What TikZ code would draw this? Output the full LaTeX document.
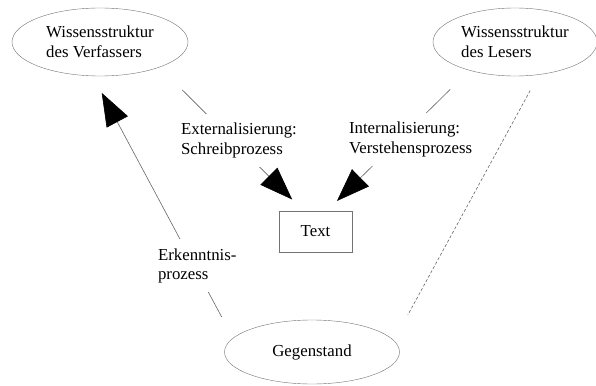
\documentclass[tikz,border=0pt]{standalone}
\usepackage{fontspec}
\setmainfont{Liberation Serif}
\usetikzlibrary{arrows.meta,shapes.geometric,quotes}

\begin{document}
\begin{tikzpicture}[x=1pt,y=-1pt,font=\fontsize{16.8}{19.5}\selectfont,
    wissen/.style={ellipse, draw=black!55, inner sep=0pt, align=left},
    lbl/.style={fill=white, align=left, inner sep=9pt, anchor=center},
    lblext/.style={lbl, pos=0.51, xshift=6pt},
    lblint/.style={lbl, pos=0.49, xshift=11pt},
    lblerk/.style={lbl, pos=0.276, xshift=3pt},
    arr/.style={draw=black!60, line width=0.6pt, -{Triangle[length=33pt,width=24pt,color=black]}},
    dash line/.style={draw=black!60, line width=0.6pt, dash pattern=on 3pt off 2pt}]
      \useasboundingbox (0,0) rectangle (596,385);
      \node (verf) [wissen, minimum width=176pt, minimum height=68pt] at (100,42) {Wissensstruktur\\des Verfassers};
      \node (leser) [wissen, minimum width=164pt, minimum height=68pt] at (515,42) {Wissensstruktur\\des Lesers};
      \node (geg) [wissen, minimum width=175pt, minimum height=64pt] at (312,352) {Gegenstand};
      \node (txt) [rectangle, draw=black!55, minimum width=73pt, minimum height=41pt] at (315.5,231.5) {Text};
      \draw (verf.-23) edge[arr, "Externalisierung:\\Schreibprozess" lblext, shorten <=32pt, shorten >=16pt] (txt.120);
      \draw (leser.-148) edge[arr, "Internalisierung:\\Verstehensprozess" lblint, shorten <=27pt, shorten >=14pt] (txt.61);
      \draw (geg.170) edge[arr, "Erkenntnis-\\prozess" lblerk, shorten <=24pt, shorten >=19pt] (verf.-102);
      \draw[dash line, shorten <=18pt, shorten >=29pt] (leser.-54) -- (geg.8);
    \end{tikzpicture}
\end{document}
